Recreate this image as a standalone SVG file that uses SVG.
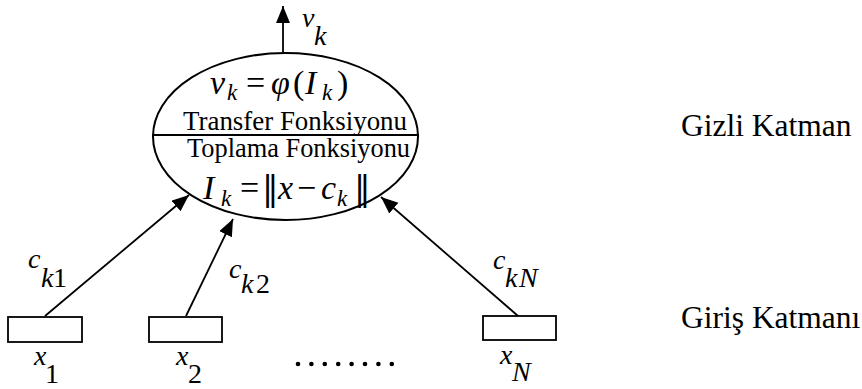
<svg xmlns="http://www.w3.org/2000/svg" width="862" height="389" viewBox="0 0 862 389">
<style>
text{font-family:"Liberation Serif","Times New Roman",serif;fill:#000}
.m{font-style:italic}
.big{font-size:34px}
.sub{font-size:23px;font-style:italic}
.lab{font-size:28px}
.fn{font-size:26.5px}
.layer{font-size:31.5px}
.norm{font-family:"DejaVu Serif","Liberation Serif",serif;font-size:33px}
.edge{stroke:#000;stroke-width:1.8;fill:none}
.box{fill:#fff;stroke:#000;stroke-width:1.8}
.dot{fill:#000}
</style>
<defs>
<marker id="ah" markerUnits="userSpaceOnUse" markerWidth="18" markerHeight="16" refX="17" refY="7" orient="auto">
<path d="M0,0 L17,7 L0,14 z" fill="#000"/>
</marker>
</defs>
<rect width="862" height="389" fill="#fff"/>
<g id="hidden-node">
<ellipse cx="285.5" cy="136.5" rx="132.5" ry="83.5" fill="none" stroke="#000" stroke-width="2"/>
<line x1="152" y1="135" x2="419" y2="135" stroke="#000" stroke-width="2"/>
<text class="m big" x="210" y="94">v</text>
<text class="sub" x="227" y="100">k</text>
<text class="big" x="246" y="94">=</text>
<text class="m big" x="271" y="94">φ</text>
<text class="big" x="293" y="94">(</text>
<text class="m big" x="305" y="94">I</text>
<text class="sub" x="322" y="100">k</text>
<text class="big" x="337" y="94">)</text>
<text class="fn" x="183" y="130" textLength="224" lengthAdjust="spacingAndGlyphs">Transfer Fonksiyonu</text>
<text class="fn" x="187" y="157" textLength="223" lengthAdjust="spacingAndGlyphs">Toplama Fonksiyonu</text>
<text class="m big" x="203" y="199">I</text>
<text class="sub" x="221" y="206">k</text>
<text class="big" x="240" y="199">=</text>
<text class="norm" x="262" y="200">‖</text>
<text class="m big" x="278" y="199">x</text>
<text class="big" x="297" y="199">−</text>
<text class="m big" x="321" y="199">c</text>
<text class="sub" x="337" y="206">k</text>
<text class="norm" x="354" y="200">‖</text>
</g>
<g id="input-1">
<rect class="box" x="8" y="317" width="74" height="25"/>
<text class="lab m" x="34" y="365">x</text>
<text class="lab" x="45" y="383">1</text>
</g>
<g id="input-2">
<rect class="box" x="149" y="317" width="73" height="25"/>
<text class="lab m" x="176" y="365">x</text>
<text class="lab" x="188" y="383">2</text>
</g>
<g id="input-N">
<rect class="box" x="483" y="316" width="73" height="24"/>
<text class="lab m" x="500" y="364">x</text>
<text class="lab m" x="512" y="381">N</text>
</g>
<g id="ellipsis">
<circle class="dot" cx="298" cy="364" r="2.3"/>
<circle class="dot" cx="311.4" cy="364" r="2.3"/>
<circle class="dot" cx="324.8" cy="364" r="2.3"/>
<circle class="dot" cx="338.2" cy="364" r="2.3"/>
<circle class="dot" cx="351.6" cy="364" r="2.3"/>
<circle class="dot" cx="365" cy="364" r="2.3"/>
<circle class="dot" cx="378.4" cy="364" r="2.3"/>
<circle class="dot" cx="391.8" cy="364" r="2.3"/>
</g>
<g id="connectors">
<line class="edge" x1="283" y1="53" x2="283" y2="6" marker-end="url(#ah)"/>
<line class="edge" x1="45" y1="316" x2="189" y2="195" marker-end="url(#ah)"/>
<line class="edge" x1="186" y1="316" x2="233" y2="219" marker-end="url(#ah)"/>
<line class="edge" x1="518" y1="316" x2="381" y2="197" marker-end="url(#ah)"/>
</g>
<g id="labels">
<text class="lab m" x="302" y="27">v</text>
<text class="lab m" x="314" y="45">k</text>
<text class="lab m" x="28" y="268">c</text>
<text class="lab m" x="41" y="287">k</text>
<text class="lab" x="53" y="287">1</text>
<text class="lab m" x="229" y="278">c</text>
<text class="lab m" x="241" y="293">k</text>
<text class="lab" x="256" y="293">2</text>
<text class="lab m" x="493" y="269">c</text>
<text class="lab m" x="505" y="287">k</text>
<text class="lab m" x="519" y="287">N</text>
</g>
<g id="layer-labels">
<text class="layer" x="681" y="136">Gizli Katman</text>
<text class="layer" x="681" y="328">Giriş Katmanı</text>
</g>
</svg>
